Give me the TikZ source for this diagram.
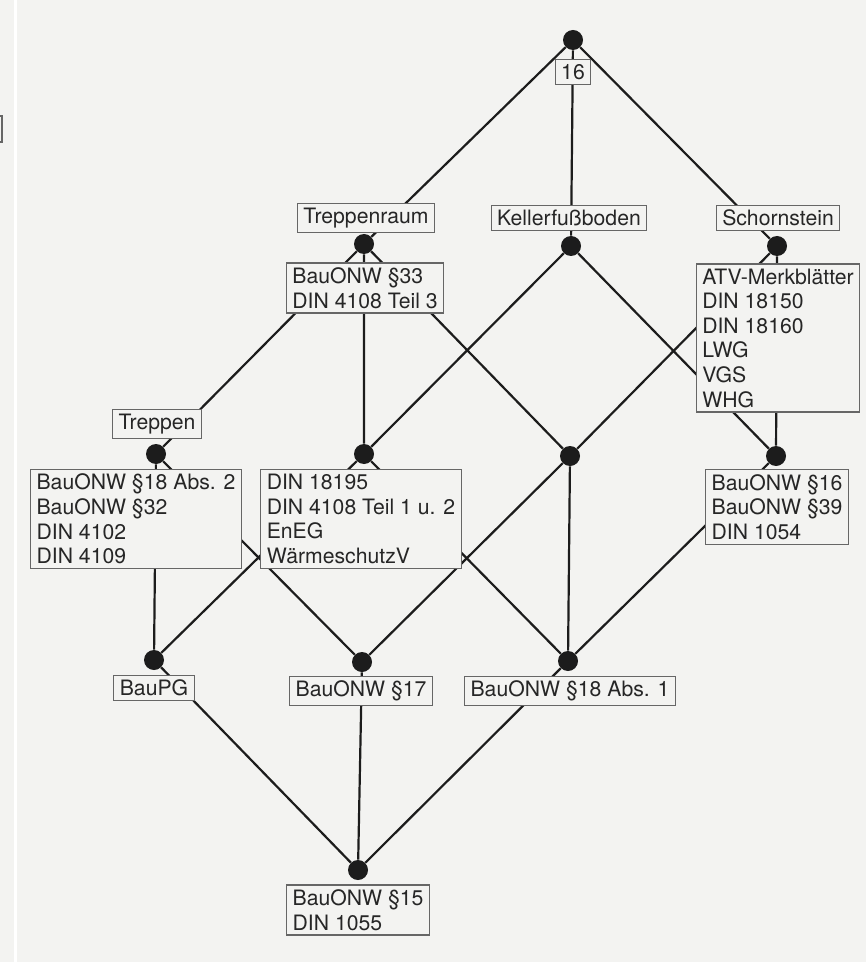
\documentclass[tikz,border=0pt]{standalone}
\usepackage{fontspec}
\setmainfont{TeX Gyre Heros}
\definecolor{scan}{HTML}{F3F3F1}
\definecolor{ink}{HTML}{1C1C1C}

\begin{document}
\begin{tikzpicture}[x=0.5pt,y=-0.5pt,
		dot/.style={circle,fill=ink,inner sep=0pt,minimum size=10pt},
		edge/.style={line width=1.1pt,ink},
		lbl/.style={draw=black!60,line width=0.6pt,fill=scan,text=black!85,align=left,
			inner xsep=3pt,inner ysep=2.3pt,font=\fontsize{10.6}{12.3}\selectfont}]
		\useasboundingbox (0,0) rectangle (866,962);
		\fill[scan] (0,0) rectangle (866,962);
		\draw[white,line width=1.5pt] (15,0) -- (15,962);
		\draw[black!60,line width=0.6pt] (0,116) -- (2,116) -- (2,142) -- (0,142);

		% Concepts
		\node[dot] (top) at (573,40) {};
		\node[dot] (treppenraum) at (364,244) {};
		\node[dot] (keller) at (571,246) {};
		\node[dot] (schorn) at (777,246) {};
		\node[dot] (treppen) at (156,454) {};
		\node[dot] (waerme) at (364,454) {};
		\node[dot] (mid) at (570,456) {};
		\node[dot] (din1054) at (776,456) {};
		\node[dot] (baupg) at (154,660) {};
		\node[dot] (bauo17) at (362,662) {};
		\node[dot] (bauo18) at (568,661) {};
		\node[dot] (bottom) at (358,870) {};

		% Lines of the lattice
		\draw[edge] (top) -- (treppenraum) (top) -- (keller) (top) -- (schorn);
		\draw[edge] (treppenraum) -- (treppen) (treppenraum) -- (waerme) (treppenraum) -- (mid);
		\draw[edge] (keller) -- (waerme) (keller) -- (din1054);
		\draw[edge] (schorn) -- (mid) (schorn) -- (din1054);
		\draw[edge] (treppen) -- (baupg) (treppen) -- (bauo17);
		\draw[edge] (waerme) -- (baupg) (waerme) -- (bauo18);
		\draw[edge] (mid) -- (bauo17) (mid) -- (bauo18);
		\draw[edge] (din1054) -- (bauo18);
		\draw[edge] (baupg) -- (bottom) (bauo17) -- (bottom) (bauo18) -- (bottom);

		% Attributes
		\node[lbl] (a-16) at (573,72) {16};
		\node[lbl] (a-treppenraum) at (366,218) {Treppenraum};
		\node[lbl] (a-keller) at (569,218) {Kellerfußboden};
		\node[lbl] (a-schorn) at (778,218) {Schornstein};
		\node[lbl] (a-treppen) at (157,424) {Treppen};

		% Objects
		\node[lbl] (o-treppenraum) at (365,288) {BauONW §33\\DIN 4108 Teil 3};
		\node[lbl] (o-schorn) at (778,338) {ATV-Merkblätter\\DIN 18150\\DIN 18160\\LWG\\VGS\\WHG};
		\node[lbl] (o-treppen) at (136,519) {BauONW §18 Abs. 2\\BauONW §32\\DIN 4102\\DIN 4109};
		\node[lbl] (o-waerme) at (361,519) {DIN 18195\\DIN 4108 Teil 1 u. 2\\EnEG\\WärmeschutzV};
		\node[lbl] (o-din1054) at (777,507) {BauONW §16\\BauONW §39\\DIN 1054};
		\node[lbl] (o-baupg) at (154,688) {BauPG};
		\node[lbl] (o-bauo17) at (361,691) {BauONW §17};
		\node[lbl] (o-bauo18) at (570,691) {BauONW §18 Abs. 1};
		\node[lbl] (o-bottom) at (358,910) {BauONW §15\\DIN 1055};
	\end{tikzpicture}
\end{document}
